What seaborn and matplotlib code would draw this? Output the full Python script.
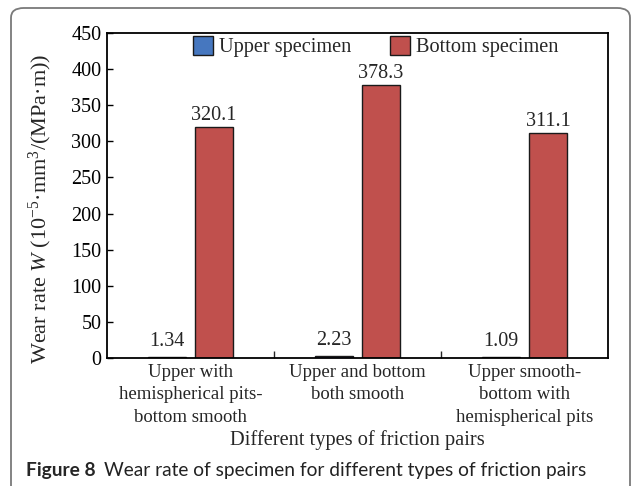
import matplotlib
matplotlib.use("Agg")
import matplotlib.pyplot as plt
from matplotlib.patches import FancyBboxPatch
from matplotlib.ticker import FixedLocator
import seaborn as sns
import pandas as pd

categories = ["Upper with\nhemispherical pits-\nbottom smooth",
              "Upper and bottom\nboth smooth",
              "Upper smooth-\nbottom with\nhemispherical pits"]
series_names = ["Upper specimen", "Bottom specimen"]
upper_values = [1.34, 2.23, 1.09]
bottom_values = [320.1, 378.3, 311.1]
y_ticks = [0, 50, 100, 150, 200, 250, 300, 350, 400, 450]
colors = ["#4677BF", "#C0504D"]

df = pd.DataFrame({
    "pair": categories * 2,
    "series": [series_names[0]] * 3 + [series_names[1]] * 3,
    "value": upper_values + bottom_values,
})

sns.set_style("ticks")
plt.rcParams["font.family"] = ["Liberation Serif", "DejaVu Serif"]
plt.rcParams["mathtext.fontset"] = "custom"
plt.rcParams["mathtext.rm"] = "Liberation Serif"
plt.rcParams["mathtext.it"] = "Liberation Serif:italic"

W, H = 636, 486
fig = plt.figure(figsize=(W / 100, H / 100), dpi=100)
ax = fig.add_axes([107 / W, 1 - 358 / H, (608 - 107) / W, (358 - 33) / H])

sns.barplot(data=df, x="pair", y="value", hue="series", order=categories,
            hue_order=series_names, palette=colors, width=0.56, gap=0.18,
            edgecolor="#1a1a1a", linewidth=1.0, saturation=1, ax=ax,
            errorbar=None)

ax.set_xlim(-0.5, 2.5)
ax.set_ylim(0, 450)
ax.set_yticks(y_ticks)
ax.set_yticklabels([str(t) for t in y_ticks], fontsize=14.5)
ax.tick_params(axis="y", direction="in", length=4, width=1.0, pad=4, colors="black")
ax.tick_params(axis="x", which="major", length=0, pad=4, labelsize=13.5)
ax.xaxis.set_minor_locator(FixedLocator([0.5, 1.5]))
ax.tick_params(axis="x", which="minor", direction="in", length=5, width=1.0)
for lbl in ax.get_xticklabels():
    lbl.set_linespacing(1.45)
for s in ax.spines.values():
    s.set_visible(True)
    s.set_linewidth(1.3)
    s.set_color("black")

ax.set_xlabel("Different types of friction pairs", fontsize=14.7, labelpad=3)
ax.set_ylabel(r"Wear rate $\it{W}$ (10$^{\mathrm{-5}}$·mm$^{\mathrm{3}}$/(MPa·m))",
              fontsize=16)
ax.yaxis.set_label_coords(-0.105, 0.458)

paddings = [4.5, 1.5]
label_lists = [[f"{v:.2f}" for v in upper_values], [f"{v:.1f}" for v in bottom_values]]
for cont, labs, pad in zip(ax.containers, label_lists, paddings):
    ax.bar_label(cont, labels=labs, padding=pad, fontsize=14.5)

leg = ax.legend(loc="center", bbox_to_anchor=(0.536, 0.957), ncol=2, frameon=False,
                fontsize=14.6, handlelength=1.0, handleheight=1.0,
                handletextpad=0.3, columnspacing=1.9, borderaxespad=0)

# outer rounded frame
frame = FancyBboxPatch((11 / W, -0.05), (630 - 11) / W, (1 - 8 / H) + 0.05,
                       boxstyle="round,pad=0,rounding_size=0.02",
                       transform=fig.transFigure, facecolor="none",
                       edgecolor="#7a7a7a", linewidth=1.3, clip_on=False)
fig.patches.append(frame)

# caption
cap_y = 1 - 470 / H
t1 = fig.text(26 / W, cap_y, "Figure 8", fontsize=13.8, fontweight="bold",
              family=["Lato", "DejaVu Sans"], va="center", ha="left")
fig.canvas.draw()
bb = t1.get_window_extent()
fig.text(bb.x1 / W + 8 / W, cap_y, "Wear rate of specimen for different types of friction pairs",
         fontsize=13.8, family=["Lato", "DejaVu Sans"], va="center", ha="left",
         color="#222222")

fig.savefig("out.png", dpi=100)
